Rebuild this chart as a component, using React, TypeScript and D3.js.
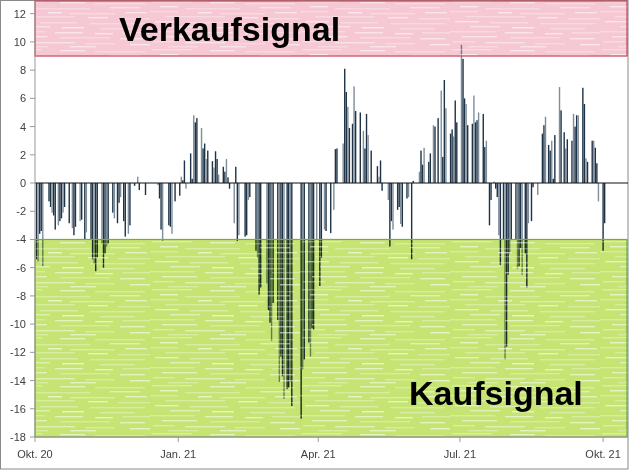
import React from "react";
import * as d3 from "d3";

// days since 2020-10-01
const dayOffsets: number[] = [
  1, 2, 3, 4, 5, 9, 10, 11, 12, 13, 15, 16, 17, 18, 19, 22, 24, 25, 26, 29, 30, 32, 33,
  36, 37, 38, 39, 40, 43, 44, 45, 46, 47, 50, 51, 53, 54, 55, 57, 58, 60, 61,
  64, 66, 67, 71, 79, 80, 81, 82, 86, 87, 88, 90, 93, 94, 95, 96, 97,
  100, 101, 102, 103, 104, 107, 108, 109, 110, 111, 114, 115, 116, 117, 118, 121, 122, 123, 124, 125, 128, 129, 130, 131,
  135, 136, 137, 138, 142, 143, 144, 145, 149, 150, 151, 152, 153, 156, 157, 158, 159, 160, 162, 163, 164, 165,
  171, 172, 173, 176, 177, 178, 179, 181, 183, 184, 186, 187, 190, 192,
  193, 194, 198, 199, 200, 201, 202, 204, 205, 206, 209, 211, 212, 213, 214, 216, 220, 221, 222, 223,
  227, 228, 229, 230, 233, 234, 235, 236, 239, 240, 242, 243, 247, 248, 249, 250, 253, 254, 256, 257, 259,
  261, 262, 263, 264, 267, 268, 269, 270, 271, 274, 275, 276, 277, 278, 281, 282, 283, 284, 285, 288, 289, 290,
  292, 293, 295, 296, 297, 298, 299, 301, 302, 303, 304, 305, 306, 309, 310, 311, 312, 313, 315, 316, 317, 319, 320, 323,
  326, 327, 328, 330, 331, 332, 333, 334, 337, 338, 340, 341, 342, 345, 346, 347, 348, 349, 352, 353, 354, 355,
  358, 359, 360, 361, 362, 365, 366,
];

const values: number[] = [
  -5.4, -5.55, -3.6, -3.4, -5.9, -1.3, -1.7, -2.1, -2.3, -3.3, -3.0, -2.7, -2.5, -2.1, -1.7, -2.85, -3.2, -3.7, -3.1, -2.7, -2.6, -4.0, -3.5,
  -4.0, -5.4, -5.7, -6.25, -5.3, -4.3, -6.0, -5.0, -4.5, -4.3, -2.1, -2.5, -2.85, -1.4, -1.0, -2.7, -3.8, -3.6, -3.0,
  -0.2, 0.45, -0.5, -0.85, -0.15, -1.1, -3.3, -4.1, -3.0, -3.1, -3.6, -1.3, -0.9, 0.45, 0.2, 1.6, -0.4,
  2.1, 0.3, 4.8, 4.3, 4.6, 3.9, 2.45, 2.8, 1.7, 2.3, 1.55, 1.1, 2.25, 1.7, 0.6, 1.15, 0.8, 1.7, 0.4, -0.4, -2.85, 1.15, -4.1, -3.7,
  -3.8, -3.7, -1.2, -1.0, -4.8, -5.3, -7.9, -7.4, -7.1, -9.0, -9.9, -11.2, -8.5, -9.7, -14.1, -12.3, -13.7, -15.3, -14.6, -14.5, -14.1, -15.8,
  -16.7, -13.2, -12.5, -11.3, -12.3, -10.3, -10.4, -4.0, -7.3, -5.3, -3.3, -3.4, -3.55, -1.9,
  2.4, 2.45, 2.8, 8.1, 6.45, 5.4, 3.9, 4.2, 6.85, 5.1, 5.0, 3.7, 2.45, 4.9, 3.4, 2.3, 1.2, 0.45, 1.6, -0.55,
  -1.2, -4.5, -2.7, -3.3, -1.9, -1.7, -2.9, -3.1, -1.1, -1.0, -5.4, 0.15, 0.8, 2.3, 1.3, 2.5, 1.5, 2.1, 4.1, 4.0, 4.6,
  6.55, 1.85, 7.3, 5.3, 3.5, 3.8, 3.3, 5.85, 4.3, 9.8, 8.8, 6.0, 5.6, 4.1, 4.2, 6.2, 4.3, 4.45, 5.0, 4.9, 2.55, 3.0,
  -3.0, -1.2, 0.1, -0.4, -1.0, -3.7, -5.8, -4.0, -12.5, -11.6, -6.5, -5.0, -4.0, -4.0, -6.1, -5.9, -4.6, -6.5, -5.0, -7.4, -2.85, -2.7, -0.3, -0.85,
  3.5, 4.1, 4.7, 2.7, 2.3, 3.0, 0.3, 3.4, 6.8, 5.15, 3.6, 2.45, 3.1, 3.0, 4.9, 4.0, 4.8, 4.8, 6.75, 5.6, 1.75, 1.5,
  3.0, 3.0, 2.5, 1.4, -1.3, -4.8, -2.85,
];

const yTicks: number[] = [-18, -16, -14, -12, -10, -8, -6, -4, -2, 0, 2, 4, 6, 8, 10, 12];
const xTickDates: string[] = ["2020-10-01", "2021-01-01", "2021-04-01", "2021-07-01", "2021-10-01"];
const xTickLabels: string[] = ["Okt. 20", "Jan. 21", "Apr. 21", "Jul. 21", "Okt. 21"];
const sellThreshold = 9;
const buyThreshold = -4;
const sellLabel = "Verkaufsignal";
const buyLabel = "Kaufsignal";

const W = 629;
const H = 470;
const plotLeft = 35;
const plotRight = 628;

const startDate = new Date(Date.UTC(2020, 9, 1));
const endDate = new Date(Date.UTC(2021, 9, 17));
const dayToDate = (d: number) => new Date(Date.UTC(2020, 9, 1 + d));

const x = d3.scaleUtc().domain([startDate, endDate]).range([plotLeft, plotRight]);
const y = d3.scaleLinear().domain([-18, 12]).range([437, 13.7]);

// decorative texture streaks (pattern tile 150x48)
const streaks = [
  [2, 1, 40, 0.35], [60, 2, 25, 0.5], [95, 3, 50, 0.3], [10, 6, 18, 0.55], [35, 8, 55, 0.3], [110, 7, 30, 0.45],
  [0, 11, 28, 0.3], [48, 12, 14, 0.6], [70, 13, 45, 0.35], [125, 12, 22, 0.5], [15, 16, 60, 0.3], [88, 17, 20, 0.55],
  [118, 18, 32, 0.3], [5, 21, 24, 0.5], [40, 22, 38, 0.35], [90, 23, 55, 0.3], [20, 26, 30, 0.45], [62, 27, 22, 0.6],
  [100, 28, 35, 0.35], [0, 31, 45, 0.3], [55, 32, 28, 0.5], [95, 33, 18, 0.55], [122, 32, 28, 0.3], [12, 36, 35, 0.5],
  [60, 37, 50, 0.3], [120, 38, 25, 0.5], [3, 41, 22, 0.35], [35, 42, 40, 0.45], [85, 43, 30, 0.3], [130, 44, 20, 0.55],
  [18, 46, 30, 0.3], [70, 46, 26, 0.5],
];

export default function App() {
  const barW = 1.4;
  const topY = 1;
  const zoneW = plotRight - plotLeft;
  return (
    <svg
      width={W}
      height={H}
      style={{ position: "absolute", left: 0, top: 0, background: "#fff" }}
      fontFamily="'Liberation Sans', Arial, sans-serif"
    >
      <defs>
        <pattern id="tex" x="0" y="0" width="150" height="48" patternUnits="userSpaceOnUse">
          {streaks.map((s, i) => (
            <rect key={i} x={s[0]} y={s[1]} width={s[2]} height={1.4} fill="#fff" opacity={s[3]} />
          ))}
        </pattern>
      </defs>
      <rect x={0.5} y={0.5} width={W - 1.5} height={H - 1.5} fill="#fff" stroke="#8a8a8a" />

      {/* bars */}
      {values.map((v, i) => {
        const xv = x(dayToDate(dayOffsets[i]));
        const y0 = y(0);
        const yv = y(v);
        return (
          <rect
            key={i}
            x={xv - barW / 2}
            y={Math.min(y0, yv)}
            width={barW}
            height={Math.abs(yv - y0)}
            fill={i % 3 === 1 ? "#7f8d9a" : "#1e3346"}
          />
        );
      })}

      {/* sell zone */}
      <g style={{ mixBlendMode: "multiply" }}>
        <rect x={plotLeft} y={topY} width={zoneW} height={y(sellThreshold) - topY} fill="#f5c8d3" />
      </g>
      <rect x={plotLeft} y={topY} width={zoneW} height={y(sellThreshold) - topY} fill="url(#tex)" />
      <rect
        x={plotLeft}
        y={topY}
        width={zoneW - 1}
        height={y(sellThreshold) - topY}
        fill="none"
        stroke="#c8475a"
        strokeWidth={1.2}
      />

      {/* buy zone */}
      <g style={{ mixBlendMode: "multiply" }}>
        <rect x={plotLeft} y={y(buyThreshold)} width={zoneW} height={y(-18) - y(buyThreshold)} fill="#c6e474" />
      </g>
      <rect x={plotLeft} y={y(buyThreshold)} width={zoneW} height={y(-18) - y(buyThreshold)} fill="url(#tex)" />
      <rect
        x={plotLeft}
        y={y(buyThreshold)}
        width={zoneW - 1}
        height={y(-18) - y(buyThreshold)}
        fill="none"
        stroke="#72ad46"
        strokeWidth={1.2}
      />

      {/* zero line */}
      <line x1={plotLeft} x2={plotRight} y1={y(0)} y2={y(0)} stroke="#111" strokeWidth={1.2} />

      {/* y axis */}
      <line x1={plotLeft} x2={plotLeft} y1={topY} y2={y(-18)} stroke="#9a9a9a" />
      {yTicks.map((t) => (
        <g key={t}>
          <line x1={plotLeft - 5} x2={plotLeft} y1={y(t)} y2={y(t)} stroke="#9a9a9a" />
          <text x={26} y={y(t) + 4} textAnchor="end" fontSize={11} fill="#404040">
            {t}
          </text>
        </g>
      ))}

      {/* x axis */}
      <line x1={plotLeft} x2={plotRight} y1={y(-18)} y2={y(-18)} stroke="#9a9a9a" />
      {xTickDates.map((d, i) => {
        const xv = x(new Date(d + "T00:00:00Z"));
        return (
          <g key={d}>
            <line x1={xv} x2={xv} y1={y(-18)} y2={y(-18) + 5} stroke="#9a9a9a" />
            <text x={xv} y={458} textAnchor="middle" fontSize={11} fill="#404040">
              {xTickLabels[i]}
            </text>
          </g>
        );
      })}

      <text x={119} y={41} fontSize={34} fontWeight="bold" fill="#000">
        {sellLabel}
      </text>
      <text x={409} y={405} fontSize={34} fontWeight="bold" fill="#000">
        {buyLabel}
      </text>
    </svg>
  );
}
